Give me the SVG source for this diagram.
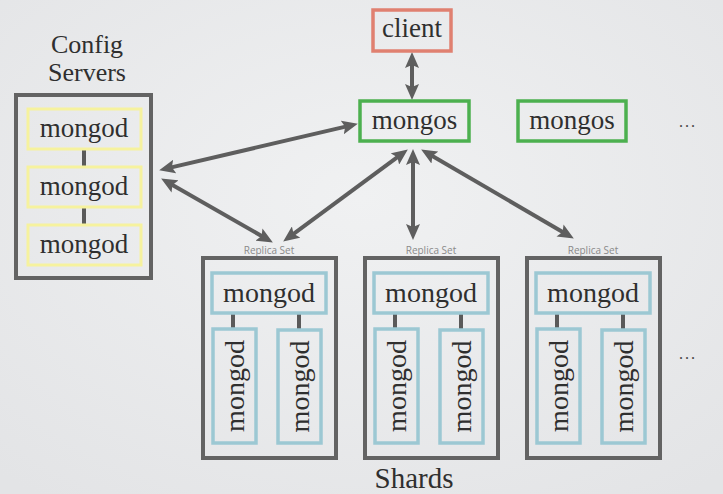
<svg xmlns="http://www.w3.org/2000/svg" width="723" height="494" viewBox="0 0 723 494">
<defs>
<radialGradient id="bg" cx="50%" cy="40%" r="75%">
<stop offset="0" stop-color="#f0f1f2"/>
<stop offset="1" stop-color="#e3e4e6"/>
</radialGradient>
<marker id="ah" markerUnits="userSpaceOnUse" markerWidth="16" markerHeight="14" viewBox="0 0 16 14" refX="9" refY="7" orient="auto-start-reverse">
<path d="M0,0 L16,7 L0,14 L3,7 Z" fill="#5e5e5e"/>
</marker>
<style>
.t{font-family:'Liberation Serif','DejaVu Serif',serif;fill:#2f2f2f;text-anchor:middle}
.rs{font-family:'Open Sans','Liberation Sans',sans-serif;font-size:10px;fill:#8a8a8a;text-anchor:middle}
.outer{fill:none;stroke:#636363;stroke-width:4}
.yel{fill:none;stroke:#f6f29e;stroke-width:3}
.blu{fill:none;stroke:#9cc8d3;stroke-width:3.5}
.red{fill:none;stroke:#e08070;stroke-width:3.5}
.grn{fill:none;stroke:#4cb04f;stroke-width:3.5}
.lnk{stroke:#5a5a5a;stroke-width:4}
.arr{stroke:#5e5e5e;stroke-width:4;fill:none;marker-start:url(#ah);marker-end:url(#ah)}
.dots{font-family:'Liberation Serif',serif;font-size:16px;fill:#444;text-anchor:middle;letter-spacing:2px}
</style>
</defs>
<rect width="723" height="494" fill="url(#bg)"/>

<g id="connectors">
<line class="arr" x1="412" y1="59" x2="412" y2="93"/>
<line class="arr" x1="166" y1="168.6" x2="351" y2="125.4"/>
<line class="arr" x1="167.2" y1="182" x2="266.8" y2="239"/>
<line class="arr" x1="402.2" y1="153.6" x2="288.8" y2="237.4"/>
<line class="arr" x1="413" y1="156" x2="413" y2="233"/>
<line class="arr" x1="427.2" y1="153" x2="567.8" y2="235"/>
</g>

<g id="config-label">
<text class="t" x="87" y="53" font-size="26">Config</text>
<text class="t" x="87" y="81" font-size="26">Servers</text>
</g>

<g id="config-servers">
<rect class="outer" x="16" y="95" width="135" height="183"/>
<line class="lnk" x1="84" y1="149" x2="84" y2="167"/>
<line class="lnk" x1="84" y1="207" x2="84" y2="224"/>
<g id="cfg1"><rect class="yel" x="28" y="109" width="113" height="40"/><text class="t" x="84" y="137" font-size="27">mongod</text></g>
<g id="cfg2"><rect class="yel" x="28" y="167" width="113" height="40"/><text class="t" x="84" y="195" font-size="27">mongod</text></g>
<g id="cfg3"><rect class="yel" x="28" y="225" width="113" height="40"/><text class="t" x="84" y="253" font-size="27">mongod</text></g>
</g>

<g id="client"><rect class="red" x="373" y="10" width="78" height="41"/><text class="t" x="412" y="37" font-size="27">client</text></g>
<g id="mongos1"><rect class="grn" x="360" y="101" width="109" height="40"/><text class="t" x="414.5" y="129" font-size="27">mongos</text></g>
<g id="mongos2"><rect class="grn" x="518" y="101" width="108" height="40"/><text class="t" x="572" y="129" font-size="27">mongos</text></g>
<g id="dots-top"><text class="dots" x="688" y="127">...</text></g>

<g id="rs1">
<text class="rs" x="269" y="254">Replica Set</text>
<rect class="outer" x="203" y="258" width="133" height="200"/>
<line class="lnk" x1="233" y1="313" x2="233" y2="328"/>
<line class="lnk" x1="299" y1="313" x2="299" y2="330"/>
<rect class="blu" x="212" y="273" width="114" height="40"/><text class="t" x="269" y="302" font-size="28">mongod</text>
<rect class="blu" x="213" y="329" width="43" height="114"/><text class="t" font-size="28" transform="translate(244,386) rotate(-90)">mongod</text>
<rect class="blu" x="278" y="330" width="43" height="113"/><text class="t" font-size="28" transform="translate(309,386.5) rotate(-90)">mongod</text>
</g>

<g id="rs2">
<text class="rs" x="431" y="254">Replica Set</text>
<rect class="outer" x="365" y="258" width="133" height="200"/>
<line class="lnk" x1="395" y1="313" x2="395" y2="328"/>
<line class="lnk" x1="461" y1="313" x2="461" y2="330"/>
<rect class="blu" x="374" y="273" width="114" height="40"/><text class="t" x="431" y="302" font-size="28">mongod</text>
<rect class="blu" x="375" y="329" width="43" height="114"/><text class="t" font-size="28" transform="translate(406,386) rotate(-90)">mongod</text>
<rect class="blu" x="440" y="330" width="43" height="113"/><text class="t" font-size="28" transform="translate(471,386.5) rotate(-90)">mongod</text>
</g>

<g id="rs3">
<text class="rs" x="593" y="254">Replica Set</text>
<rect class="outer" x="527" y="258" width="133" height="200"/>
<line class="lnk" x1="557" y1="313" x2="557" y2="328"/>
<line class="lnk" x1="623" y1="313" x2="623" y2="330"/>
<rect class="blu" x="536" y="273" width="114" height="40"/><text class="t" x="593" y="302" font-size="28">mongod</text>
<rect class="blu" x="537" y="329" width="43" height="114"/><text class="t" font-size="28" transform="translate(568,386) rotate(-90)">mongod</text>
<rect class="blu" x="602" y="330" width="43" height="113"/><text class="t" font-size="28" transform="translate(633,386.5) rotate(-90)">mongod</text>
</g>

<g id="dots-bottom"><text class="dots" x="688" y="359">...</text></g>
<g id="shards-label"><text class="t" x="414" y="488" font-size="29">Shards</text></g>
</svg>
